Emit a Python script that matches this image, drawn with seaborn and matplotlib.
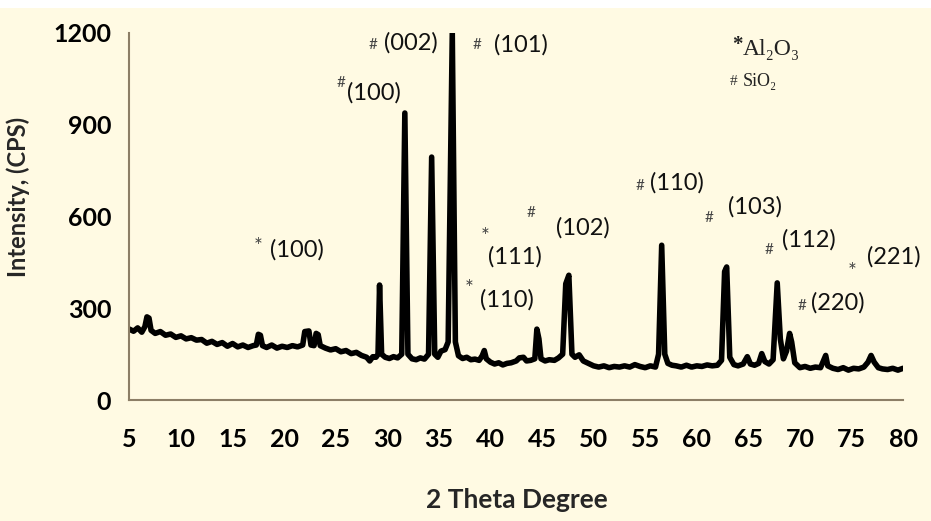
import numpy as np
import pandas as pd
import matplotlib
matplotlib.use("Agg")
import matplotlib.pyplot as plt
import seaborn as sb

# XRD pattern (2 theta, counts)
two_theta = [
    5.0, 5.4, 5.8, 6.2, 6.5, 6.7, 6.9, 7.1, 7.5, 8.0, 8.5, 9.0, 9.5, 10.0, 10.5,
    11.0, 11.5, 12.0, 12.5, 13.0, 13.5, 14.0, 14.5, 15.0, 15.5, 16.0, 16.5, 17.0,
    17.3, 17.5, 17.7, 17.9, 18.3, 18.8, 19.3, 19.8, 20.3, 20.8, 21.3, 21.8, 22.0,
    22.4, 22.6, 22.9, 23.1, 23.3, 23.5, 24.0, 24.5, 25.0, 25.5, 26.0, 26.5, 27.0,
    27.5, 28.0, 28.3, 28.6, 28.9, 29.1, 29.25, 29.45, 29.8, 30.2, 30.6, 31.0,
    31.4, 31.7, 32.0, 32.4, 32.8, 33.2, 33.6, 34.0, 34.3, 34.6, 34.9, 35.2, 35.6,
    35.9, 36.3, 36.6, 36.9, 37.3, 37.7, 38.1, 38.5, 38.9, 39.2, 39.4, 39.6, 40.0,
    40.4, 40.8, 41.2, 41.6, 42.0, 42.5, 42.8, 43.2, 43.5, 43.9, 44.3, 44.5, 44.7,
    44.9, 45.3, 45.7, 46.2, 46.6, 47.0, 47.3, 47.6, 47.9, 48.2, 48.6, 49.0, 49.5,
    50.0, 50.5, 51.0, 51.5, 52.0, 52.5, 53.0, 53.5, 54.0, 54.5, 55.0, 55.5, 56.0,
    56.3, 56.6, 56.9, 57.2, 57.6, 58.0, 58.5, 59.0, 59.5, 60.0, 60.5, 61.0, 61.5,
    62.0, 62.4, 62.7, 62.9, 63.2, 63.6, 64.0, 64.5, 64.9, 65.2, 65.6, 66.0, 66.3,
    66.6, 67.0, 67.4, 67.8, 68.1, 68.4, 68.7, 69.0, 69.2, 69.5, 70.0, 70.5, 71.0,
    71.5, 72.0, 72.5, 72.7, 73.2, 73.7, 74.2, 74.7, 75.2, 75.7, 76.2, 76.6, 76.9,
    77.2, 77.6, 78.0, 78.5, 79.0, 79.5, 80.0,
]
intensity = [
    232, 225, 236, 222, 240, 272, 268, 228, 218, 224, 212, 216, 205, 210, 200,
    204, 196, 198, 186, 192, 182, 188, 176, 185, 174, 180, 172, 178,
    180, 215, 212, 178, 172, 180, 170, 176, 172, 178, 174, 180, 224,
    226, 180, 178, 218, 214, 178, 170, 164, 168, 158, 162, 152, 156,
    146, 140, 128, 142, 140, 150, 376, 150, 140, 136, 142, 138,
    150, 938, 150, 135, 132, 138, 134, 150, 794, 150, 140, 160, 165,
    190, 1200, 190, 145, 136, 140, 132, 134, 130, 145, 162, 135, 124,
    118, 122, 115, 120, 122, 128, 138, 140, 128, 130, 135, 232, 200,
    135, 128, 132, 130, 138, 150, 380, 408, 150, 140, 148, 128, 120,
    112, 108, 112, 106, 110, 108, 112, 108, 116, 110, 106, 112, 108,
    150, 506, 150, 120, 114, 112, 108, 114, 108, 112, 110, 115, 112,
    114, 130, 420, 435, 140, 116, 112, 118, 142, 118, 114, 120, 152,
    126, 118, 132, 383, 200, 135, 160, 218, 190, 122, 106, 110, 104,
    108, 106, 146, 112, 104, 100, 106, 98, 104, 102, 108, 124, 146,
    124, 106, 102, 100, 104, 98, 104,
]

# peak labels (Miller indices) and their phase marks
hkl_labels = ["(100)", "(100)", "(002)", "(101)", "(111)", "(102)", "(110)",
              "(110)", "(103)", "(112)", "(221)", "(220)"]
hkl_x = [21.26, 28.72, 32.31, 42.98, 42.40, 49.0, 41.6, 58.12, 65.69, 70.83, 79.07, 73.64]
hkl_y = [490, 1004, 1167, 1161, 468, 562, 327, 710, 631, 523, 468, 317]
phase_marks = ["*", "#", "#", "#", "*", "#", "*", "#", "#", "#", "*", "#"]
mark_x = [17.47, 25.52, 28.62, 38.71, 39.5, 43.95, 37.94, 54.53, 61.23, 67.04, 75.09, 70.25]
mark_y = [513, 1037, 1161, 1161, 548, 611, 376, 700, 595, 490, 432, 307]

bg = "#fffae3"
axis_col = "#8c7e66"

df = pd.DataFrame({"two_theta": two_theta, "intensity": intensity})

sb.set_theme(style="white")
plt.rcParams["font.family"] = ["Lato", "DejaVu Sans"]

fig = plt.figure(figsize=(9.31, 5.21), dpi=100, facecolor=bg)
ax = fig.add_axes([0.139, 0.232, 0.831, 0.705], facecolor=bg)

sb.lineplot(data=df, x="two_theta", y="intensity", color="black", linewidth=4,
            estimator=None, sort=False, ax=ax)

ax.set_xlim(5, 80)
ax.set_ylim(0, 1200)
ax.set_xticks(np.arange(5, 81, 5))
ax.set_yticks([0, 300, 600, 900, 1200])
ax.set_xlabel("")
ax.set_ylabel("")
for s in ["top", "right"]:
    ax.spines[s].set_visible(False)
for s in ["left", "bottom"]:
    ax.spines[s].set_color(axis_col)
    ax.spines[s].set_linewidth(1.5)
ax.tick_params(axis="both", direction="out", length=7, width=1.5, color=axis_col,
               labelsize=18, labelcolor="black", pad=6)
ax.tick_params(axis="x", pad=13)
for lab in ax.get_xticklabels() + ax.get_yticklabels():
    lab.set_fontweight("bold")

fig.text(18 / 931, 1 - 197 / 521, "Intensity, (CPS)", rotation=90, ha="center",
         va="center", fontsize=17, fontweight="bold")
fig.text(517 / 931, 1 - 500 / 521, "2 Theta Degree", ha="center", va="center",
         fontsize=19, fontweight="bold")

for lab, x, y in zip(hkl_labels, hkl_x, hkl_y):
    ax.text(x, y, lab, ha="center", va="center", fontsize=17, color="#111111")
for m, x, y in zip(phase_marks, mark_x, mark_y):
    size = 15 if m == "*" else 11
    dy = -14 if m == "*" else 0
    ax.text(x, y + dy, m, ha="center", va="center", fontsize=size, color="#444444")

# phase key
serif = ["Liberation Serif", "DejaVu Serif"]
ax.text(63.94, 1161, "*", ha="center", va="center", fontsize=15, fontweight="bold",
        family=serif, color="#222222")
ax.text(64.5, 1144, "Al\u2082O\u2083", ha="left", va="center", fontsize=17,
        family=serif, color="#222222")
ax.text(63.55, 1040, "#", ha="center", va="center", fontsize=11, family=serif,
        color="#333333")
ax.text(64.5, 1040, "SiO\u2082", ha="left", va="center", fontsize=13,
        family=serif, color="#222222")

# white strip at the top of the scanned page
fig.patches.append(plt.Rectangle((0, 1 - 8 / 521), 1, 8 / 521, transform=fig.transFigure,
                                 facecolor="white", edgecolor="none"))

fig.savefig("out.png", dpi=100, facecolor=bg)
